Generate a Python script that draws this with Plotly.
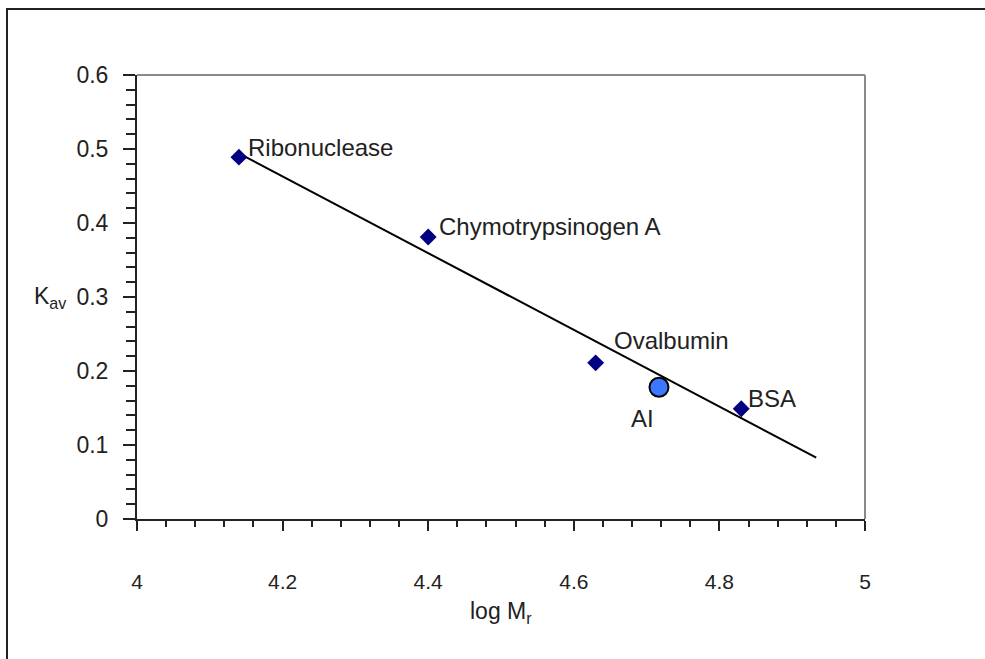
import plotly.graph_objects as go

# Data
protein_names = ["Ribonuclease", "Chymotrypsinogen A", "Ovalbumin", "BSA"]
log_mr = [4.14, 4.40, 4.63, 4.83]
kav = [0.489, 0.381, 0.211, 0.149]
sample_name = ["AI"]
sample_log_mr = [4.717]
sample_kav = [0.178]
fit_x = [4.14, 4.933]
fit_y = [0.494, 0.083]
x_ticks = [4, 4.2, 4.4, 4.6, 4.8, 5]
y_ticks = [0, 0.1, 0.2, 0.3, 0.4, 0.5, 0.6]

FONT = "Liberation Sans, Arial, sans-serif"
TXT = "#222222"

fig = go.Figure()
fig.add_trace(go.Scatter(x=fit_x, y=fit_y, mode="lines",
                         line=dict(color="black", width=2), hoverinfo="skip",
                         showlegend=False))
fig.add_trace(go.Scatter(x=log_mr, y=kav, mode="markers",
                         marker=dict(symbol="diamond", size=13, color="#000080"),
                         showlegend=False))
fig.add_trace(go.Scatter(x=sample_log_mr, y=sample_kav, mode="markers",
                         marker=dict(symbol="circle", size=19, color="#3b78ff",
                                     line=dict(color="black", width=2)),
                         showlegend=False))

# label offsets (pixels)
offsets = [(7, 10), (9, 11), (16, 22), (5, 10)]
for name, x, y, (dx, dy) in zip(protein_names, log_mr, kav, offsets):
    fig.add_annotation(x=x, y=y, xref="x", yref="y", text=name, showarrow=False,
                       xanchor="left", yanchor="middle", xshift=dx, yshift=dy,
                       font=dict(family=FONT, size=24, color=TXT))
fig.add_annotation(x=sample_log_mr[0], y=sample_kav[0], xref="x", yref="y",
                   text=sample_name[0], showarrow=False, xanchor="right",
                   yanchor="middle", xshift=-3, yshift=-31,
                   font=dict(family=FONT, size=24, color=TXT))

# axis titles
fig.add_annotation(x=(50 - 137) / 728, y=0.5, xref="paper", yref="paper",
                   text="K<sub>av</sub>", showarrow=False, xanchor="center",
                   yanchor="middle", font=dict(family=FONT, size=23, color=TXT))
fig.add_annotation(x=0.5, y=-(612 - 519) / 444, xref="paper", yref="paper",
                   text="log M<sub>r</sub>", showarrow=False, xanchor="center",
                   yanchor="middle", font=dict(family=FONT, size=23, color=TXT))

# outer frame (only left/top visible)
fig.add_shape(type="rect", xref="paper", yref="paper",
              x0=(7 - 137) / 728, x1=1.5, y0=-0.6, y1=1 + (75 - 9) / 444,
              line=dict(color="#222222", width=2), layer="below")
# top and right plot border in gray
fig.add_shape(type="line", xref="paper", yref="paper", x0=0, x1=1, y0=1, y1=1,
              line=dict(color="#8a8a8a", width=2))
fig.add_shape(type="line", xref="paper", yref="paper", x0=1, x1=1, y0=0, y1=1,
              line=dict(color="#8a8a8a", width=2))

fig.update_xaxes(range=[4, 5], tickvals=x_ticks, ticktext=[f"{v:g}" for v in x_ticks],
                 showgrid=False, zeroline=False, showline=True, linecolor="#222222",
                 linewidth=2, ticks="outside", ticklen=10, tickwidth=1.5,
                 tickcolor="#222222", ticklabelstandoff=33,
                 tickfont=dict(family=FONT, size=21, color=TXT),
                 minor=dict(dtick=0.04, tick0=4, ticks="outside", ticklen=6,
                            tickwidth=1.5, tickcolor="#222222", showgrid=False))
fig.update_yaxes(range=[0, 0.6], tickvals=y_ticks, ticktext=[f"{v:g}" for v in y_ticks],
                 showgrid=False, zeroline=False, showline=True, linecolor="#222222",
                 linewidth=2, ticks="outside", ticklen=12, tickwidth=2,
                 tickcolor="#222222", ticklabelstandoff=10,
                 tickfont=dict(family=FONT, size=23, color=TXT),
                 minor=dict(dtick=0.02, tick0=0, ticks="outside", ticklen=9,
                            tickwidth=1.5, tickcolor="#222222", showgrid=False))

fig.update_layout(width=985, height=659, margin=dict(l=137, r=120, t=75, b=140),
                  paper_bgcolor="white", plot_bgcolor="white", showlegend=False,
                  font=dict(family=FONT, color=TXT))

fig.write_html("out.html")
